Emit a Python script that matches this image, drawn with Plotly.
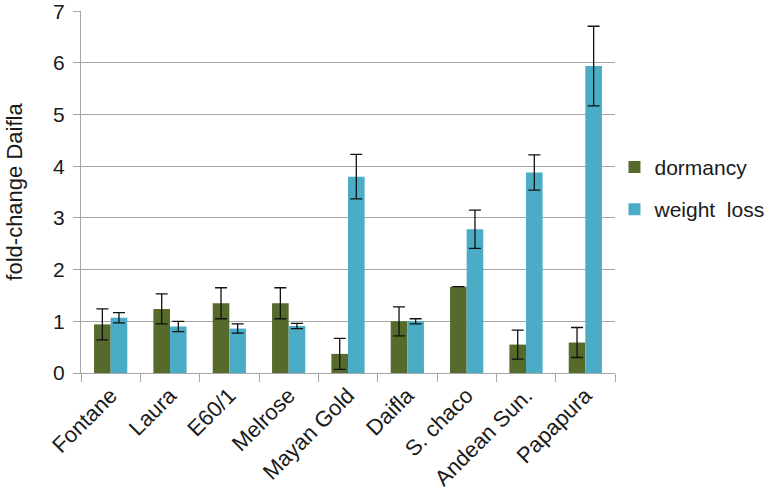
import plotly.graph_objects as go

categories = ["Fontane", "Laura", "E60/1", "Melrose", "Mayan Gold", "Daifla", "S. chaco", "Andean Sun.", "Papapura"]
dormancy = [0.94, 1.24, 1.35, 1.35, 0.37, 1.00, 1.67, 0.55, 0.59]
dormancy_err = [0.30, 0.29, 0.30, 0.30, 0.30, 0.28, None, 0.28, 0.29]
weight_loss = [1.07, 0.90, 0.86, 0.91, 3.80, 1.00, 2.78, 3.88, 5.94]
weight_loss_err = [0.10, 0.10, 0.09, 0.05, 0.43, 0.05, 0.37, 0.34, 0.77]
y_ticks = [0, 1, 2, 3, 4, 5, 6, 7]

font_family = "Liberation Sans, Arial, sans-serif"
grid_color = "#A6A6A6"

fig = go.Figure()
fig.add_trace(go.Bar(
    x=categories, y=dormancy, name="dormancy",
    marker=dict(color="#566A2C", line=dict(width=0)),
    error_y=dict(type="data", array=dormancy_err, visible=True, color="#111111", thickness=1.3, width=6),
    legendgroup="a",
))
fig.add_trace(go.Bar(
    x=categories, y=weight_loss, name="weight  loss",
    marker=dict(color="#4BACC6", line=dict(width=0)),
    error_y=dict(type="data", array=weight_loss_err, visible=True, color="#111111", thickness=1.3, width=6),
    legendgroup="b",
))

fig.update_layout(
    width=771, height=500,
    margin=dict(l=81, r=156, t=11, b=127, autoexpand=False),
    paper_bgcolor="white", plot_bgcolor="white",
    barmode="group", bargap=0.44, bargroupgap=0,
    font=dict(family=font_family, size=20, color="#1a1a1a"),
    legend=dict(x=0.999, y=0.625, xanchor="left", yanchor="top",
                font=dict(size=21), tracegroupgap=12, bgcolor="rgba(0,0,0,0)"),
    showlegend=True,
)
fig.update_xaxes(
    type="category", showline=True, linecolor=grid_color, linewidth=1,
    ticks="outside", tickson="boundaries", ticklen=8, tickcolor=grid_color,
    tickangle=-45, tickfont=dict(size=22), showgrid=False, automargin=False,
)
fig.update_yaxes(
    range=[0, 7.005], tickvals=y_ticks, showline=True, linecolor=grid_color, linewidth=1,
    ticks="outside", ticklen=7, tickcolor=grid_color, ticklabelstandoff=4,
    ticklabeloverflow="allow",
    showgrid=True, gridcolor=grid_color, gridwidth=1, zeroline=False,
    tickfont=dict(size=21), automargin=False,
    title=dict(text="fold-change Daifla", font=dict(size=22), standoff=24),
)

fig.write_html("out.html", config={"displayModeBar": False},
               post_script="document.body.style.margin='0';")
